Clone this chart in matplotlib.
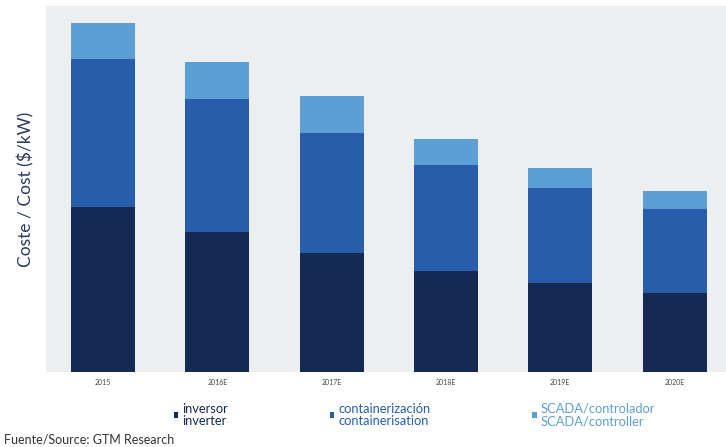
import matplotlib.pyplot as plt
import numpy as np

years = ['2015', '2016E', '2017E', '2018E', '2019E', '2020E']
inverter = [165, 140, 119, 101, 89, 79]
containerisation = [148, 133, 120, 106, 95, 84]
scada = [36, 37, 37, 26, 20, 18]
labels = ['inversor\ninverter', 'containerización\ncontainerisation',
          'SCADA/controlador\nSCADA/controller']
colors = ['#152a53', '#275dab', '#5c9fd5']

plt.rcParams['font.family'] = ['Lato', 'DejaVu Sans']

fig = plt.figure(figsize=(7.26, 4.47), dpi=100)
ax = fig.add_axes([46 / 726, 75 / 447, 680 / 726, 366 / 447])
ax.set_facecolor('#eceef0')

x = np.arange(len(years))
w = 0.56
b1 = ax.bar(x, inverter, w, color=colors[0], label=labels[0])
b2 = ax.bar(x, containerisation, w, bottom=inverter, color=colors[1], label=labels[1])
bottom2 = np.array(inverter) + np.array(containerisation)
b3 = ax.bar(x, scada, w, bottom=bottom2, color=colors[2], label=labels[2])

ax.set_xlim(-0.5, 5.45)
ax.set_ylim(0, 366)
ax.set_yticks([])
ax.set_xticks(x)
ax.set_xticklabels(years, fontsize=5, color='#444444')
ax.tick_params(axis='x', length=0, pad=5)
for s in ax.spines.values():
    s.set_visible(False)

ax.set_ylabel('Coste / Cost ($/kW)', fontsize=12.5, color='#2a3b63', labelpad=8)

leg = fig.legend(handles=[b1, b2, b3], loc='upper left',
                 bbox_to_anchor=(162 / 726, 1 - 391 / 447), ncol=3,
                 frameon=False, fontsize=9.3, handlelength=0.35, handleheight=0.35,
                 handletextpad=0.3, columnspacing=7.9, labelspacing=0.2)
for t, c in zip(leg.get_texts(), ['#152a53', '#275dab', '#5c9fd5']):
    t.set_color(c)
    t.set_linespacing(1.05)

fig.text(4 / 726, 1 - 439 / 447, 'Fuente/Source: GTM Research', fontsize=9,
         color='#333333', va='center', ha='left')

fig.savefig('out.png', dpi=100)
